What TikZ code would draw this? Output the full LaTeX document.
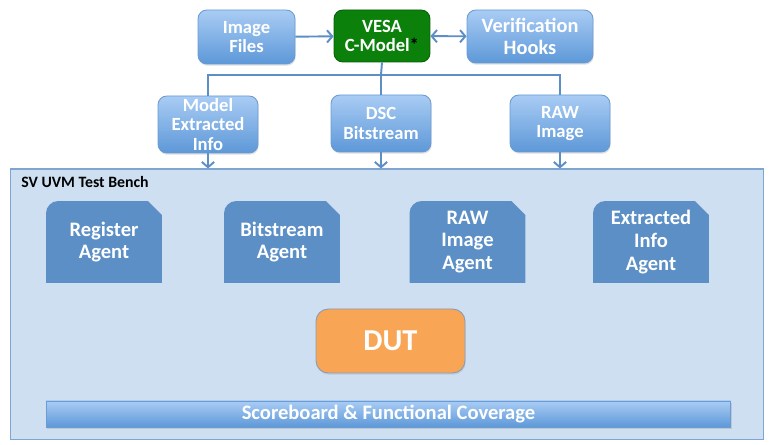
\documentclass[tikz,border=0pt]{standalone}
\usepackage{fontspec}
\setmainfont{Carlito}
\usetikzlibrary{arrows.meta,shadows}
\definecolor{boxtop}{HTML}{A9CCF4}
\definecolor{boxbot}{HTML}{5D98D8}
\definecolor{boxedge}{HTML}{6A9BD2}
\definecolor{vesafill}{HTML}{0B800B}
\definecolor{vesaedge}{HTML}{086008}
\definecolor{agentfill}{HTML}{5B8FC6}
\definecolor{benchfill}{HTML}{CEDFF2}
\definecolor{benchedge}{HTML}{7FA6D3}
\definecolor{dutfill}{HTML}{F8A656}
\definecolor{dutedge}{HTML}{8A9BB5}
\definecolor{lineblue}{HTML}{5B8FC6}
\begin{document}
\begin{tikzpicture}[x=0.02cm,y=-0.02cm,
    txt/.style={text=white,font=\bfseries\fontsize{10.6}{11.3}\selectfont,align=center,inner sep=0pt},
    box/.style={txt,rounded corners=5pt,draw=boxedge,line width=0.5pt,
      top color=boxtop,bottom color=boxbot,
      drop shadow={opacity=0.25,shadow xshift=0.4pt,shadow yshift=-1pt}},
    vesabox/.style={txt,rounded corners=5pt,draw=vesaedge,line width=0.5pt,fill=vesafill},
    agent/.style={txt,font=\bfseries\fontsize{11.7}{13}\selectfont,
      minimum width=2.32cm,minimum height=1.64cm,
      path picture={\fill[agentfill] (path picture bounding box.south west)
        -- ([yshift=-7pt]path picture bounding box.north west)
        arc[start angle=180,end angle=90,radius=7pt]
        -- ([xshift=-8pt]path picture bounding box.north east)
        -- ([yshift=-8pt]path picture bounding box.north east)
        -- (path picture bounding box.south east) -- cycle;}},
    bench/.style={draw=benchedge,line width=0.6pt,fill=benchfill,inner sep=0pt},
    conn/.style={draw=lineblue,line width=1.1pt},
    arr/.style={conn,-{Straight Barb[length=3pt,width=7pt]}}]
  \useasboundingbox (0,0) rectangle (769,445);

  % sources
  \node[box,minimum width=1.94cm,minimum height=1.08cm] (imgfiles) at (246.5,37) {Image\\Files};
  \node[vesabox,minimum width=1.92cm,minimum height=1.04cm] (vesa) at (382,36) {VESA\\C-Model\textcolor{black}{*}};
  \node[box,font=\bfseries\fontsize{11.6}{12.5}\selectfont,minimum width=2.52cm,minimum height=1.06cm] (verif) at (530,36.5) {Verification\\Hooks};

  % model outputs
  \node[box,minimum width=2cm,minimum height=1.14cm] (model) at (208,124.5) {Model\\Extracted\\Info};
  \node[box,minimum width=2cm,minimum height=1.14cm] (dsc) at (381,123.5) {DSC\\Bitstream};
  \node[box,minimum width=2cm,minimum height=1.14cm] (rawimg) at (560,123.5) {RAW\\Image};

  % test bench
  \node[bench,minimum width=15.08cm,minimum height=5.42cm] (bench) at (387,304.5) {};
  \node[anchor=base west,inner sep=0pt,font=\bfseries\fontsize{9}{11}\selectfont] (benchlabel) at (21,188) {SV UVM Test Bench};

  \node[agent] (regagent) at (104,242) {Register\\Agent};
  \node[agent] (bsagent) at (282,242) {Bitstream\\Agent};
  \node[agent] (rawagent) at (467.5,242) {RAW\\Image\\Agent};
  \node[agent] (infoagent) at (651,242) {Extracted\\Info\\Agent};

  \node[txt,font=\bfseries\fontsize{17.3}{19}\selectfont,rounded corners=7pt,draw=dutedge,line width=0.5pt,fill=dutfill,
    minimum width=2.98cm,minimum height=1.28cm,
    drop shadow={opacity=0.2,shadow xshift=0.4pt,shadow yshift=-1pt}] (dut) at (390.5,341) {DUT};

  \node[box,font=\bfseries\fontsize{11.7}{13}\selectfont,rounded corners=0pt,minimum width=13.7cm,minimum height=0.52cm] (score) at (388.5,414) {Scoreboard \& Functional Coverage};

  % connectors
  \coordinate (split) at (381,75);
  \draw[arr] (imgfiles) -- (vesa);
  \draw[conn,{Straight Barb[length=3pt,width=7pt]}-{Straight Barb[length=3pt,width=7pt]}] (vesa) -- (verif);
  \draw[conn] (vesa.south) -- (split);
  \draw[conn] (split) -| (model.north);
  \draw[conn] (split) -- (dsc.north);
  \draw[conn] (split) -| (rawimg.north);
  \draw[arr] (model.south) -- (model.south |- bench.north);
  \draw[arr] (dsc.south) -- (dsc.south |- bench.north);
  \draw[arr] (rawimg.south) -- (rawimg.south |- bench.north);
\end{tikzpicture}
\end{document}
